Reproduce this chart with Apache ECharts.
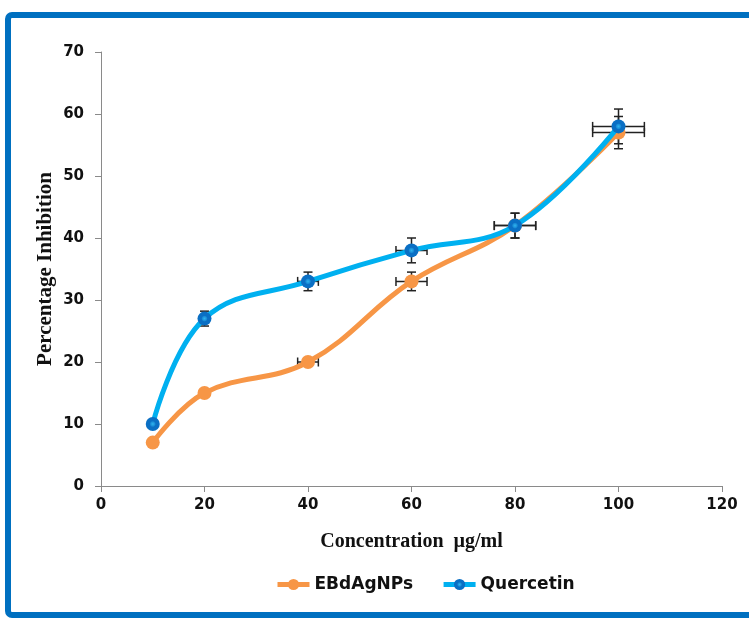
<!DOCTYPE html>
<html>
<head>
<meta charset="utf-8">
<script src="https://cdn.jsdelivr.net/npm/echarts@6/dist/echarts.min.js"></script>
<style>
  html, body { margin: 0; padding: 0; background: #fff; }
  #chart { width: 749px; height: 618px; }
</style>
</head>
<body>
<div id="chart"></div>
<script>
// Concentration (µg/ml) and percentage inhibition for both samples
const concentrations = [10, 20, 40, 60, 80, 100];
const ebdAgNPs = [7, 15, 20, 33, 42, 57];
const quercetin = [10, 27, 33, 38, 42, 58];

// Error bar half-widths (x in µg/ml, y in %)
const ebdAgNPsErrX = [0, 0, 2, 3, 4, 5];
const ebdAgNPsErrY = [0, 0, 0, 1.5, 2, 2.6];
const quercetinErrX = [0, 0, 2, 3, 4, 5];
const quercetinErrY = [0, 1.2, 1.5, 2, 2, 2.8];

const xTicks = [0, 20, 40, 60, 80, 100, 120];
const yTicks = [0, 10, 20, 30, 40, 50, 60, 70];

const chart = echarts.init(document.getElementById('chart'), null, { renderer: 'canvas' });

const pairs = (ys) => concentrations.map((x, i) => [x, ys[i]]);
const errRows = (ys, ex, ey) => concentrations.map((x, i) => [x, ys[i], ex[i], ey[i]]);

function renderErr(params, api) {
  const x = api.value(0), y = api.value(1), ex = api.value(2), ey = api.value(3);
  const c = api.coord([x, y]);
  const cap = 4.5;
  const style = { stroke: '#222', lineWidth: 1.5 };
  const children = [];
  if (ey > 0) {
    const t = api.coord([x, y + ey]), b = api.coord([x, y - ey]);
    children.push({ type: 'line', shape: { x1: c[0], y1: t[1], x2: c[0], y2: b[1] }, style });
    children.push({ type: 'line', shape: { x1: c[0] - cap, y1: t[1], x2: c[0] + cap, y2: t[1] }, style });
    children.push({ type: 'line', shape: { x1: c[0] - cap, y1: b[1], x2: c[0] + cap, y2: b[1] }, style });
  }
  if (ex > 0) {
    const l = api.coord([x - ex, y]), r = api.coord([x + ex, y]);
    children.push({ type: 'line', shape: { x1: l[0], y1: c[1], x2: r[0], y2: c[1] }, style });
    children.push({ type: 'line', shape: { x1: l[0], y1: c[1] - cap, x2: l[0], y2: c[1] + cap }, style });
    children.push({ type: 'line', shape: { x1: r[0], y1: c[1] - cap, x2: r[0], y2: c[1] + cap }, style });
  }
  return { type: 'group', children };
}

const tickFont = { fontFamily: 'DejaVu Sans', fontWeight: 'bold', fontSize: 15, color: '#111' };
const axisGray = '#8a8a8a';

const blueMarker = new echarts.graphic.RadialGradient(0.5, 0.5, 0.5, [
  { offset: 0, color: '#2fb4ee' },
  { offset: 0.3, color: '#1a8fd8' },
  { offset: 0.45, color: '#0a6fc4' },
  { offset: 1, color: '#0a6fc4' }
]);

chart.setOption({
  animation: false,
  backgroundColor: '#fff',
  graphic: [{
    type: 'rect',
    z: 100,
    shape: { x: 8, y: 15, width: 800, height: 600, r: 4 },
    style: { fill: 'none', stroke: '#0070C0', lineWidth: 6 }
  }],
  grid: { left: 101, right: 27, top: 52, bottom: 132 },
  legend: {
    top: 571,
    left: 270,
    itemWidth: 32,
    itemHeight: 14,
    itemGap: 28,
    lineStyle: { width: 5 },
    textStyle: { fontFamily: 'DejaVu Sans', fontWeight: 'bold', fontSize: 17, color: '#111' },
    data: ['EBdAgNPs', 'Quercetin']
  },
  xAxis: {
    type: 'value',
    min: xTicks[0], max: xTicks[xTicks.length - 1], interval: 20,
    name: 'Concentration  µg/ml',
    nameLocation: 'middle',
    nameGap: 46,
    nameTextStyle: { fontFamily: 'Liberation Serif', fontWeight: 'bold', fontSize: 20, color: '#111' },
    axisLine: { lineStyle: { color: axisGray, width: 1 } },
    axisTick: { show: true, length: 6, inside: false, lineStyle: { color: axisGray } },
    axisLabel: Object.assign({ margin: 12 }, tickFont),
    splitLine: { show: false }
  },
  yAxis: {
    type: 'value',
    min: yTicks[0], max: yTicks[yTicks.length - 1], interval: 10,
    name: 'Percentage Inhibition',
    nameLocation: 'middle',
    nameGap: 45,
    nameMoveOverlap: false,
    nameTextStyle: { fontFamily: 'Liberation Serif', fontWeight: 'bold', fontSize: 21, color: '#111' },
    axisLine: { show: true, lineStyle: { color: axisGray, width: 1 } },
    axisTick: { show: true, length: 6, lineStyle: { color: axisGray } },
    axisLabel: Object.assign({ margin: 17 }, tickFont),
    splitLine: { show: false }
  },
  series: [
    {
      type: 'custom', name: 'errA', z: 1, silent: true,
      renderItem: renderErr,
      data: errRows(ebdAgNPs, ebdAgNPsErrX, ebdAgNPsErrY),
      encode: { x: 0, y: 1 }
    },
    {
      type: 'custom', name: 'errB', z: 1, silent: true,
      renderItem: renderErr,
      data: errRows(quercetin, quercetinErrX, quercetinErrY),
      encode: { x: 0, y: 1 }
    },
    {
      name: 'EBdAgNPs', type: 'line', z: 3,
      data: pairs(ebdAgNPs),
      smooth: 0.4,
      symbol: 'circle', symbolSize: 14,
      lineStyle: { color: '#F79646', width: 5 },
      itemStyle: { color: '#F79646' }
    },
    {
      name: 'Quercetin', type: 'line', z: 4,
      data: pairs(quercetin),
      smooth: 0.4,
      symbol: 'circle', symbolSize: 14,
      lineStyle: { color: '#00B0F0', width: 5 },
      itemStyle: { color: blueMarker }
    }
  ]
});
</script>
</body>
</html>
